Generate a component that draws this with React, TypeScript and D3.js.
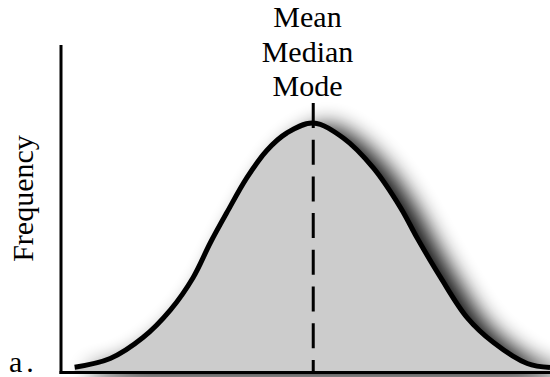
import React from "react";
import * as d3 from "d3";

// Curve: position (in standard deviations from the centre) and relative frequency
const zValues = [-2.62, -2.23, -1.87, -1.57, -1.32, -1.13, -0.95, -0.73, -0.51, -0.29, 0, 0.33, 0.66, 0.96, 1.14, 1.4, 1.69, 1.98, 2.35, 2.6];
const freqValues = [0.021, 0.056, 0.14, 0.25, 0.38, 0.52, 0.64, 0.78, 0.89, 0.96, 1, 0.94, 0.82, 0.66, 0.54, 0.38, 0.22, 0.12, 0.036, 0.02];
const centerValue = 0;
const centerLabels = ["Mean", "Median", "Mode"];
const yAxisLabel = "Frequency";
const panelLabel = "a.";

const W = 550;
const H = 377;

export default function App() {
  const axisX = 61;
  const axisY = 372.5;
  const x = d3.scaleLinear().domain([-2.77, 2.6]).range([axisX, 550]);
  const y = d3.scaleLinear().domain([0, 1]).range([axisY, 123]);

  const pts = zValues.map((z, i) => [z, freqValues[i]] as [number, number]);
  const line = d3
    .line<[number, number]>()
    .x((d) => x(d[0]))
    .y((d) => y(d[1]))
    .curve(d3.curveCatmullRom.alpha(0.5));
  const area = d3
    .area<[number, number]>()
    .x((d) => x(d[0]))
    .y0(y(0))
    .y1((d) => y(d[1]))
    .curve(d3.curveCatmullRom.alpha(0.5));

  const cx = x(centerValue);
  const textStyle: React.CSSProperties = { fontFamily: "Liberation Serif", fontSize: 30 };

  return (
    <svg
      width={W}
      height={H}
      style={{ position: "absolute", left: 0, top: 0, background: "#fff" }}
    >
      <defs>
        <filter id="sh" x="-20%" y="-30%" width="160%" height="170%">
          <feGaussianBlur in="SourceAlpha" stdDeviation="11" />
          <feOffset dx="15" dy="5" result="o" />
          <feComponentTransfer>
            <feFuncA type="linear" slope="0.95" />
          </feComponentTransfer>
          <feMerge>
            <feMergeNode />
            <feMergeNode in="SourceGraphic" />
          </feMerge>
        </filter>
      </defs>
      <rect x={0} y={0} width={W} height={H} fill="#fff" />
      <g filter="url(#sh)">
        <path d={area(pts) || ""} fill="#cccccc" />
        <path d={line(pts) || ""} fill="none" stroke="#000" strokeWidth={5} />
      </g>
      <line
        x1={cx}
        x2={cx}
        y1={103}
        y2={axisY}
        stroke="#000"
        strokeWidth={3}
        strokeDasharray="25 11.7"
      />
      <line x1={axisX} x2={axisX} y1={45} y2={axisY + 1.5} stroke="#000" strokeWidth={3} />
      <line x1={axisX - 1.5} x2={550} y1={axisY} y2={axisY} stroke="#000" strokeWidth={3} />
      {centerLabels.map((t, i) => (
        <text key={t} x={307.5} y={27 + i * 34.5} textAnchor="middle" style={textStyle} fill="#000">
          {t}
        </text>
      ))}
      <text
        transform={`translate(33,198.5) rotate(-90)`}
        textAnchor="middle"
        style={textStyle}
        fill="#000"
      >
        {yAxisLabel}
      </text>
      <text x={9} y={372} style={{ ...textStyle, letterSpacing: 4 }} fill="#000">
        {panelLabel}
      </text>
    </svg>
  );
}
